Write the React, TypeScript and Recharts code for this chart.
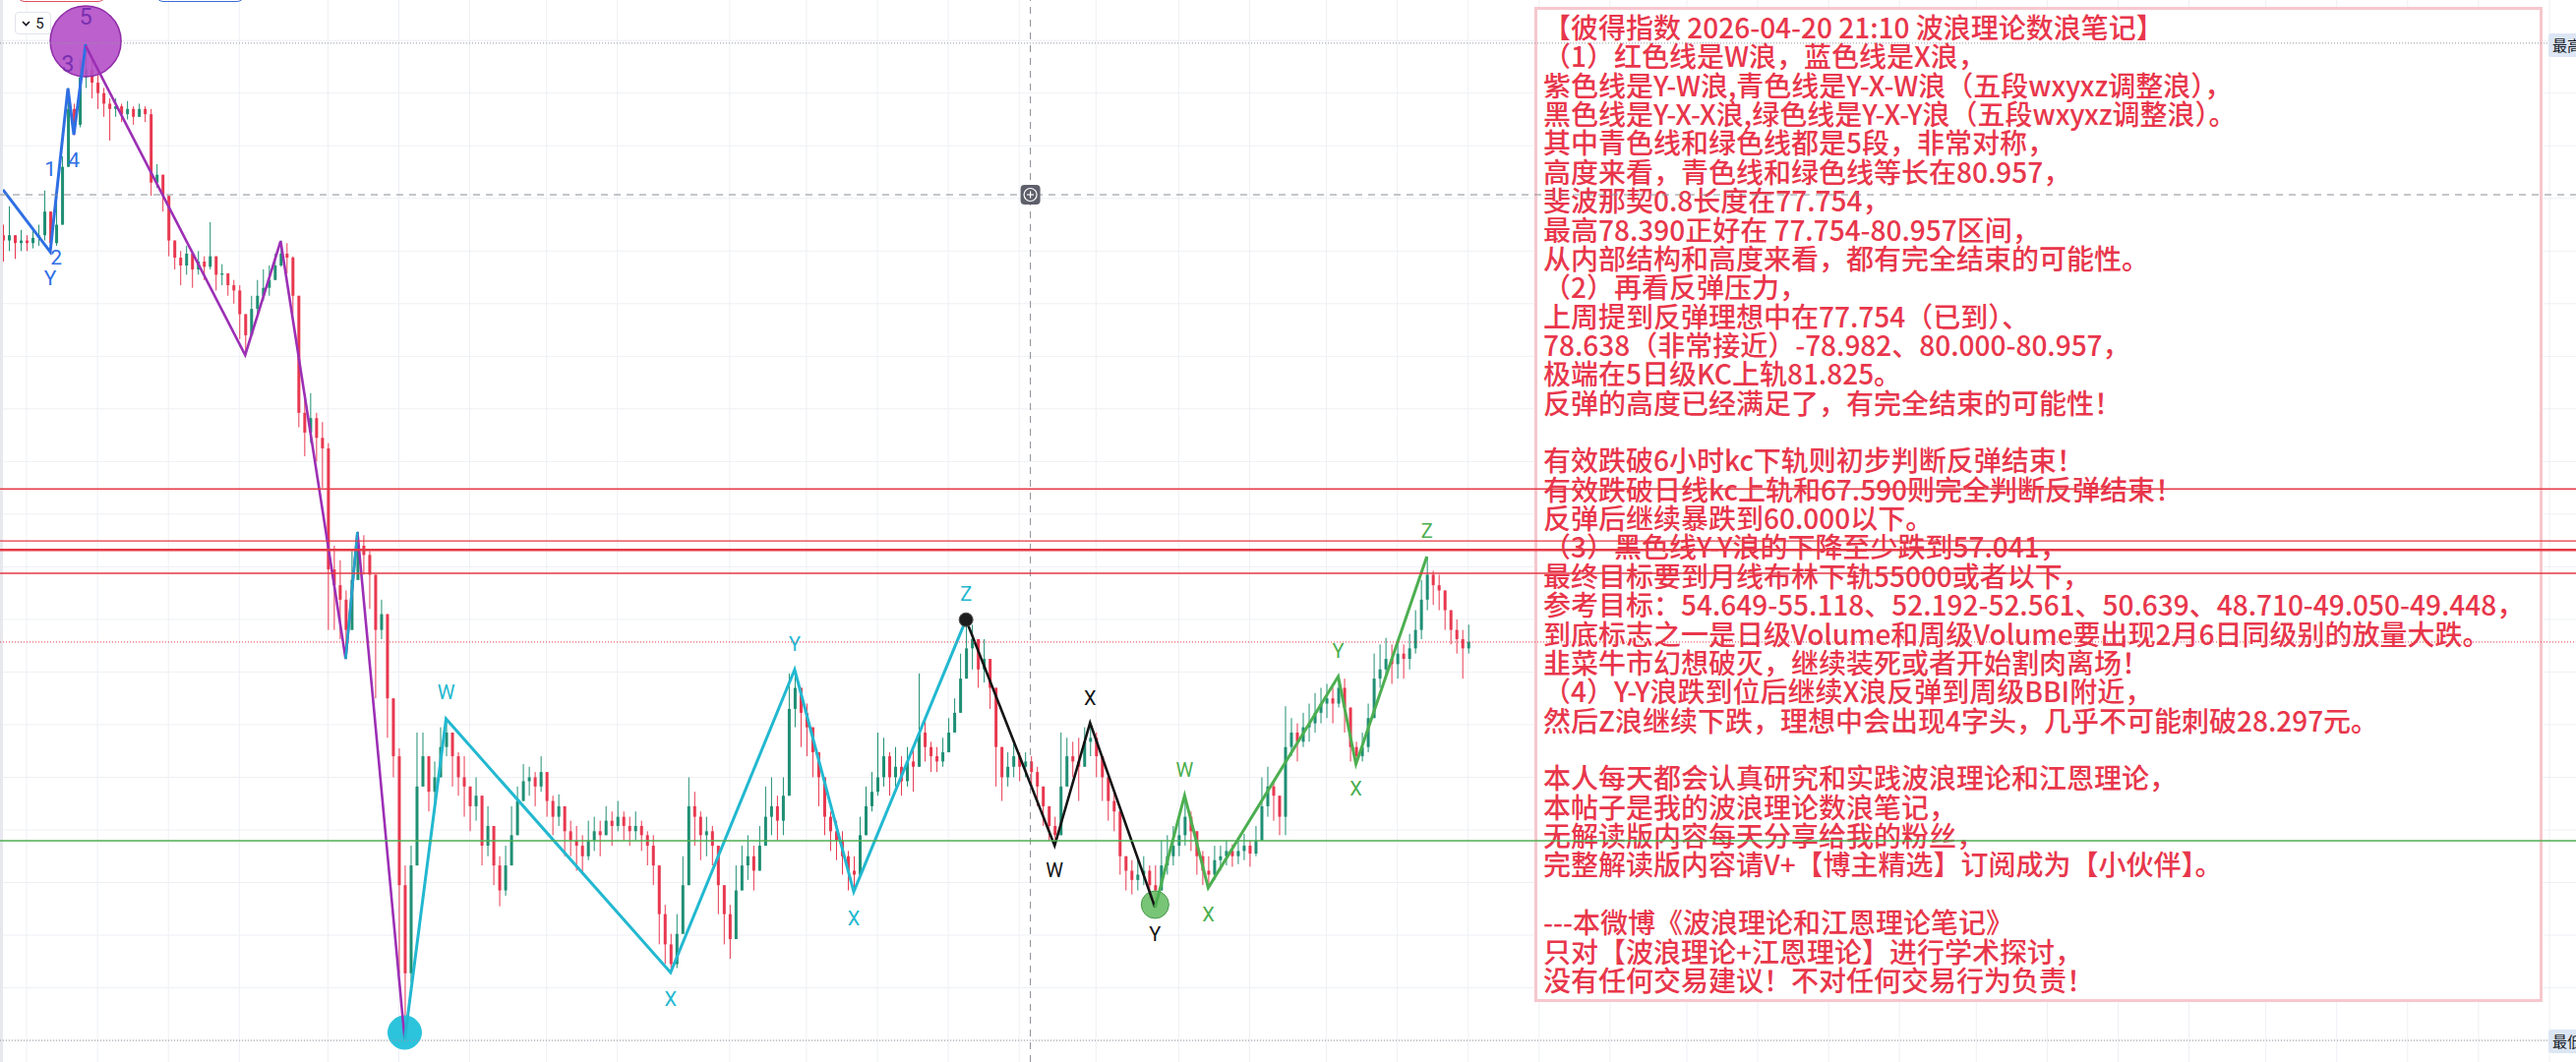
import React from 'react';
import { ComposedChart, Bar, Line, XAxis, YAxis, CartesianGrid, ReferenceLine, ReferenceDot } from 'recharts';

const W = 2619;
const H = 1080;
const SLOTS = 436;
const Y_DOMAIN: [number, number] = [59.18, 99.54];

// ---- price data (one bar per slot) ----
const firstOpen = 90.6;
const closes = [
  90.4, 90.6, 90.3, 90.4, 90.3, 90.5, 90.6, 91.5, 90.3, 91.0,
  93.2, 95.4, 94.8, 96.6, 96.9, 96.4, 96.0, 95.6, 95.4, 95.5,
  95.2, 95.4, 95.1, 95.4, 95.2, 92.6, 92.9, 92.1, 90.4, 89.75,
  89.45, 89.9, 89.3, 89.6, 89.4, 89.8, 89.1, 89.15, 88.7, 88.5,
  87.6, 86.8, 87.8, 88.3, 88.6, 88.9, 89.45, 89.9, 89.75, 88.3,
  83.85, 83.1, 83.65, 82.9, 82.5, 77.9, 77.3, 76.75, 75.6, 77.5,
  78.8, 78.45, 77.7, 75.6, 76.2, 73.0, 70.8, 65.9, 62.55, 66.65,
  69.65, 70.8, 69.45, 70.0, 71.15, 71.7, 70.8, 70.0, 69.65, 68.9,
  69.3, 67.4, 68.15, 66.65, 65.7, 66.65, 67.8, 69.1, 69.85, 70.0,
  69.65, 70.2, 69.1, 68.5, 68.9, 67.95, 67.6, 67.4, 67.0, 67.6,
  67.95, 67.8, 68.35, 68.15, 68.5, 68.15, 67.95, 68.15, 67.8, 67.4,
  66.65, 64.8, 63.65, 62.9, 64.05, 65.9, 68.9, 68.5, 67.8, 67.95,
  67.4, 65.9, 64.8, 63.85, 65.7, 66.65, 67.0, 66.45, 67.4, 68.5,
  68.9, 68.35, 69.3, 72.6, 73.4, 72.45, 71.9, 70.95, 70.0, 68.5,
  67.95, 67.6, 67.0, 66.45, 66.3, 67.8, 68.9, 69.45, 70.0, 70.8,
  70.0, 70.4, 69.85, 70.6, 70.4, 71.7, 71.15, 70.8, 70.6, 70.95,
  71.7, 72.45, 73.75, 74.9, 75.25, 74.1, 74.5, 73.4, 71.15, 70.0,
  70.4, 70.8, 70.4, 70.6, 70.2, 69.65, 68.9, 68.15, 67.8, 69.65,
  70.8, 70.6, 70.4, 71.35, 71.5, 70.8, 70.0, 69.1, 68.7, 67.0,
  66.45, 66.1, 66.3, 66.45, 65.9, 65.7, 66.65, 67.0, 67.4, 67.8,
  68.5, 67.95, 67.0, 66.45, 66.3, 66.85, 67.0, 67.2, 67.0, 67.2,
  67.4, 67.1, 67.6, 68.9, 69.65, 69.3, 68.5, 71.15, 71.7, 71.35,
  71.9, 72.05, 72.45, 72.8, 73.0, 72.8, 73.4, 72.65, 71.15, 70.8,
  71.15, 72.25, 73.75, 74.1, 74.5, 74.3, 74.7, 74.5, 74.9, 75.6,
  76.75, 77.7, 77.3, 77.1, 76.35, 75.6, 75.25, 74.9, 75.14,
];
const highs = [
  91.0, 91.7, 90.6, 90.8, 90.6, 90.9, 91.0, 92.3, 91.5, 91.9,
  93.6, 96.2, 95.6, 97.3, 97.9, 97.3, 96.9, 96.2, 95.8, 95.8,
  95.6, 95.7, 95.5, 95.6, 95.5, 95.4, 93.3, 92.8, 91.5, 90.4,
  90.0, 90.2, 89.75, 90.0, 89.8, 91.1, 89.6, 89.5, 89.15, 88.9,
  88.7, 87.6, 88.3, 88.9, 89.3, 89.45, 89.9, 90.4, 90.3, 89.8,
  88.3, 84.4, 84.6, 83.85, 83.5, 82.7, 78.8, 78.25, 77.1, 78.6,
  79.35, 79.2, 78.6, 77.1, 76.75, 75.6, 72.6, 71.1, 66.65, 67.4,
  71.7, 71.7, 70.0, 70.6, 71.9, 72.2, 71.5, 70.95, 70.8, 69.65,
  70.0, 68.5, 68.9, 67.95, 67.0, 67.4, 68.9, 69.65, 70.5, 70.4,
  70.2, 70.8, 70.0, 69.3, 69.35, 68.7, 68.35, 68.15, 67.8, 68.35,
  68.5, 68.35, 68.9, 68.7, 69.1, 68.7, 68.5, 68.7, 68.35, 67.95,
  67.8, 66.65, 65.15, 64.05, 64.8, 67.0, 70.0, 69.45, 68.7, 68.5,
  68.15, 67.0, 65.9, 65.15, 66.65, 67.4, 67.8, 67.4, 68.15, 69.65,
  70.0, 69.3, 70.0, 73.95, 74.1, 73.4, 72.8, 71.7, 70.8, 69.3,
  68.7, 68.35, 67.95, 67.2, 67.0, 68.5, 69.65, 70.2, 71.7, 71.5,
  70.95, 71.15, 70.8, 71.15, 71.15, 73.95, 72.25, 71.35, 71.15, 71.5,
  72.25, 73.0, 74.7, 75.95, 75.8, 75.25, 75.25, 74.1, 73.4, 71.15,
  70.95, 71.35, 70.95, 70.95, 70.8, 70.4, 69.65, 68.9, 68.5, 71.7,
  71.5, 71.35, 71.5, 71.9, 72.05, 71.7, 70.8, 69.85, 69.45, 68.5,
  67.0, 66.85, 66.85, 67.0, 66.65, 66.65, 67.6, 67.8, 68.15, 68.5,
  69.3, 68.7, 67.95, 67.2, 67.0, 67.4, 67.4, 67.6, 67.45, 67.6,
  67.85, 67.6, 68.15, 70.0, 70.4, 69.85, 69.3, 72.7, 72.25, 72.05,
  72.45, 72.8, 73.2, 73.4, 73.55, 73.4, 73.8, 73.75, 72.05, 71.35,
  71.7, 72.8, 74.7, 75.05, 75.3, 75.05, 75.25, 75.05, 75.45, 76.35,
  77.5, 78.39, 77.85, 77.7, 77.1, 76.35, 76.0, 75.6, 75.8,
];
const lows = [
  89.6, 90.0, 89.7, 90.0, 90.0, 90.1, 90.2, 90.4, 89.97, 90.2,
  91.0, 93.2, 94.4, 94.7, 96.2, 95.8, 95.4, 95.1, 94.2, 95.1,
  94.9, 95.0, 94.8, 95.1, 94.9, 92.1, 92.4, 91.5, 89.8, 89.3,
  88.7, 89.1, 88.6, 89.1, 88.9, 89.3, 88.5, 88.7, 88.3, 88.0,
  86.65, 86.05, 87.0, 87.6, 88.1, 88.3, 88.9, 89.4, 89.15, 87.6,
  83.3, 82.2, 82.7, 82.0, 81.0, 75.6, 75.6, 75.25, 74.5, 76.0,
  77.5, 77.7, 76.4, 73.0, 75.25, 71.5, 70.0, 62.55, 60.0, 62.2,
  67.8, 69.65, 68.7, 69.1, 70.0, 70.8, 69.65, 69.3, 68.5, 67.95,
  68.35, 66.65, 67.0, 65.9, 65.1, 65.5, 66.85, 68.15, 69.1, 69.3,
  68.9, 69.45, 68.5, 67.8, 68.15, 67.0, 67.0, 66.45, 66.3, 66.85,
  67.2, 67.0, 67.8, 67.4, 67.95, 67.6, 67.4, 67.6, 67.2, 66.65,
  65.9, 63.65, 62.9, 62.6, 62.75, 64.4, 66.65, 67.4, 66.85, 67.0,
  66.65, 64.8, 63.65, 63.1, 64.8, 65.7, 66.1, 65.7, 66.45, 67.4,
  67.8, 67.6, 67.8, 70.0, 71.9, 71.15, 70.8, 70.0, 68.9, 67.8,
  67.2, 66.85, 66.3, 65.7, 65.65, 66.65, 67.95, 68.7, 69.3, 69.65,
  69.3, 69.65, 69.3, 69.65, 69.45, 70.8, 70.6, 70.2, 70.2, 70.4,
  71.15, 71.7, 72.8, 73.75, 74.1, 73.4, 73.6, 72.6, 69.65, 69.1,
  69.65, 70.0, 69.85, 70.0, 69.65, 68.9, 68.15, 67.6, 67.4, 68.15,
  69.85, 70.0, 69.1, 70.6, 70.8, 70.0, 69.1, 68.35, 67.95, 66.3,
  65.7, 65.55, 65.7, 65.9, 65.35, 65.05, 65.7, 66.3, 66.65, 67.0,
  67.4, 67.2, 66.3, 65.9, 65.8, 66.1, 66.45, 66.65, 66.6, 66.7,
  66.85, 66.6, 67.0, 67.8, 68.5, 68.35, 67.8, 67.8, 70.8, 70.6,
  71.15, 71.35, 71.7, 72.05, 72.25, 72.05, 72.65, 71.7, 70.6, 70.5,
  70.6, 70.95, 72.65, 73.4, 73.75, 73.55, 73.75, 73.75, 74.1, 74.7,
  75.25, 76.35, 76.55, 76.35, 75.6, 75.05, 74.7, 73.75, 74.7,
];

// ---- grid ----
const gridPrices = [60, 62, 64, 66, 68, 70, 72, 74, 76, 78, 80, 82, 84, 86, 88, 90, 92, 94, 96, 98];
const gridBars = [4, 16, 28, 40, 55, 67, 79, 92, 104, 123, 136, 148, 160, 172, 185, 199, 211, 224, 236, 248, 260, 272, 285, 297, 309, 321, 334, 346, 358, 370, 383, 395, 407, 419, 431];

// ---- horizontal levels ----
const redLevels = [80.957, 78.982, 78.638, 77.754];
const greenLevel = 67.59;
const lastPrice = 75.14;
const highMark = 97.9;
const lowMark = 60.0;
const crossPrice = 92.14;
const crossBar = 174;

// ---- wave pivots ----
const blueWaveBars = [0, 8, 11, 12, 14];
const blueWaveVals = [92.33, 89.97, 96.18, 94.42, 97.86];
const purpleWaveBars = [14, 41, 47, 58, 60, 68];
const purpleWaveVals = [97.8, 86.05, 90.38, 74.5, 79.32, 60.04];
const tealLinkBars = [58, 60];
const tealLinkVals = [74.5, 79.32];
const cyanWaveBars = [68, 75, 113, 134, 144, 163];
const cyanWaveVals = [60.04, 72.22, 62.58, 74.09, 65.65, 75.99];
const blackWaveBars = [163, 178, 184, 195];
const blackWaveVals = [75.99, 67.4, 72.07, 65.05];
const greenWaveBars = [195, 200, 204, 226, 229, 241];
const greenWaveVals = [65.05, 69.31, 65.8, 73.83, 70.5, 78.39];

// ---- wave labels ----
const blueLabelText = ['1', '2', 'Y', '4'];
const blueLabelBars = [8, 9, 8, 12];
const blueLabelVals = [93.11, 89.75, 88.96, 93.45];
const purpleLabelText = ['3', '5'];
const purpleLabelBars = [11, 14];
const purpleLabelVals = [97.11, 98.87];
const cyanLabelText = ['W', 'X', 'Y', 'X', 'Z'];
const cyanLabelBars = [75, 113, 134, 144, 163];
const cyanLabelVals = [73.23, 61.57, 75.06, 64.64, 76.97];
const blackLabelText = ['W', 'X', 'Y'];
const blackLabelBars = [178, 184, 195];
const blackLabelVals = [66.47, 73.01, 64.04];
const greenLabelText = ['W', 'X', 'Y', 'X', 'Z'];
const greenLabelBars = [200, 204, 226, 229, 241];
const greenLabelVals = [70.28, 64.79, 74.8, 69.57, 79.36];

// ---- note text ----
const noteLines = [
  '【彼得指数 2026-04-20 21:10 波浪理论数浪笔记】',
  '（1）红色线是W浪，蓝色线是X浪，',
  '紫色线是Y-W浪,青色线是Y-X-W浪（五段wxyxz调整浪），',
  '黑色线是Y-X-X浪,绿色线是Y-X-Y浪（五段wxyxz调整浪）。',
  '其中青色线和绿色线都是5段，非常对称，',
  '高度来看，青色线和绿色线等长在80.957，',
  '斐波那契0.8长度在77.754，',
  '最高78.390正好在 77.754-80.957区间，',
  '从内部结构和高度来看，都有完全结束的可能性。',
  '（2）再看反弹压力，',
  '上周提到反弹理想中在77.754（已到）、',
  '78.638（非常接近）-78.982、80.000-80.957，',
  '极端在5日级KC上轨81.825。',
  '反弹的高度已经满足了，有完全结束的可能性！',
  '',
  '有效跌破6小时kc下轨则初步判断反弹结束！',
  '有效跌破日线kc上轨和67.590则完全判断反弹结束！',
  '反弹后继续暴跌到60.000以下。',
  '（3）黑色线Y-Y浪的下降至少跌到57.041，',
  '最终目标要到月线布林下轨55000或者以下，',
  '参考目标：54.649-55.118、52.192-52.561、50.639、48.710-49.050-49.448，',
  '到底标志之一是日级Volume和周级Volume要出现2月6日同级别的放量大跌。',
  '韭菜牛市幻想破灭，继续装死或者开始割肉离场！',
  '（4）Y-Y浪跌到位后继续X浪反弹到周级BBI附近，',
  '然后Z浪继续下跌，理想中会出现4字头，几乎不可能刺破28.297元。',
  '',
  '本人每天都会认真研究和实践波浪理论和江恩理论，',
  '本帖子是我的波浪理论数浪笔记，',
  '无解读版内容每天分享给我的粉丝，',
  '完整解读版内容请V+【博主精选】订阅成为【小伙伴】。',
  '',
  '---本微博《波浪理论和江恩理论笔记》',
  '只对【波浪理论+江恩理论】进行学术探讨，',
  '没有任何交易建议！不对任何交易行为负责！',
];

// ---- colours ----
const UP = '#1f8f74';
const DOWN = '#e8384f';
const C_BLUE = '#2f6fe4';
const C_PURPLE = '#9c2fb5';
const C_CYAN = '#22b8d0';
const C_BLACK = '#141414';
const C_GREEN = '#4caf50';
const C_RED = '#e53945';
const C_TEXT = '#e8364b';

// ---- table ----
type Row = { [k: string]: number | undefined };
const rows: Row[] = Array.from({ length: SLOTS }, (_, t) => {
  const row: Row = { t };
  if (t < closes.length) {
    const o = t === 0 ? firstOpen : closes[t - 1];
    const c = closes[t];
    row.o = o;
    row.c = c;
    row.h = Math.max(highs[t], o, c);
    row.l = Math.min(lows[t], o, c);
  }
  return row;
});
const waves: [string, number[], number[]][] = [
  ['blue', blueWaveBars, blueWaveVals],
  ['purple', purpleWaveBars, purpleWaveVals],
  ['teal', tealLinkBars, tealLinkVals],
  ['cyan', cyanWaveBars, cyanWaveVals],
  ['black', blackWaveBars, blackWaveVals],
  ['green', greenWaveBars, greenWaveVals],
];
waves.forEach(([key, bars, vals]) => bars.forEach((b, k) => { rows[b][key] = vals[k]; }));

const labelGroups: [string[], number[], number[], string, number][] = [
  [blueLabelText, blueLabelBars, blueLabelVals, C_BLUE, 21],
  [purpleLabelText, purpleLabelBars, purpleLabelVals, '#7a2fb0', 23],
  [cyanLabelText, cyanLabelBars, cyanLabelVals, C_CYAN, 20],
  [blackLabelText, blackLabelBars, blackLabelVals, C_BLACK, 20],
  [greenLabelText, greenLabelBars, greenLabelVals, C_GREEN, 20],
];
const labels = labelGroups.flatMap(([txt, bars, vals, color, size]) =>
  txt.map((s, k) => ({ s, b: bars[k], v: vals[k], color, size })));

const Candle = (props: any) => {
  const { x, y, width, height, payload } = props;
  if (!payload || payload.c == null || !isFinite(y) || !isFinite(height)) return null;
  const { o, h, l, c } = payload;
  const top = Math.min(y, y + height);
  const full = Math.abs(height);
  const k = h - l > 0 ? full / (h - l) : 0;
  const up = c >= o;
  const color = up ? UP : DOWN;
  const bTop = top + (h - Math.max(o, c)) * k;
  const bH = Math.max(1, Math.abs(o - c) * k);
  const cx = x + width / 2;
  return (
    <g>
      <line x1={cx} x2={cx} y1={top} y2={top + full} stroke={color} strokeWidth={1} />
      <rect x={x} y={bTop} width={width} height={bH} fill={color} />
    </g>
  );
};

const candleRange = (d: any) => (d.c == null ? null : [d.l, d.h]);

export default function App() {
  const margin = { top: 0, right: 0, bottom: 0, left: 0 };
  return (
    <div style={{ position: 'absolute', left: 0, top: 0, width: W, height: H, overflow: 'hidden', background: '#ffffff' }}>
      {/* base chart */}
      <div style={{ position: 'absolute', left: 0, top: 0 }}>
        <ComposedChart width={W} height={H} data={rows} margin={margin}>
          <XAxis dataKey="t" type="category" hide ticks={gridBars} />
          <YAxis type="number" domain={Y_DOMAIN} hide allowDataOverflow ticks={gridPrices} />
          <CartesianGrid stroke="#eef0f4" strokeWidth={1} verticalValues={gridBars} horizontalValues={gridPrices} />
          <Bar dataKey={candleRange} barSize={3} shape={Candle} isAnimationActive={false} />
          <ReferenceDot x={14} y={97.97} r={36} fill="#b44fc8" fillOpacity={0.9} stroke="#8e2aa8" strokeWidth={1.5} zIndex={350} />
          <ReferenceDot x={68} y={60.3} r={17} fill="#2cc3dc" stroke="#2cc3dc" zIndex={350} />
          <ReferenceDot x={195} y={65.16} r={14} fill="#6abf69" fillOpacity={0.9} stroke="#4a9a4d" zIndex={350} />
          <Line dataKey="blue" stroke={C_BLUE} strokeWidth={3} dot={false} connectNulls isAnimationActive={false} />
          <Line dataKey="purple" stroke={C_PURPLE} strokeWidth={2.6} dot={false} connectNulls isAnimationActive={false} />
          <Line dataKey="teal" stroke="#1ea7c9" strokeWidth={2.6} dot={false} connectNulls isAnimationActive={false} />
          <Line dataKey="cyan" stroke={C_CYAN} strokeWidth={3} dot={false} connectNulls isAnimationActive={false} />
          <Line dataKey="black" stroke={C_BLACK} strokeWidth={2.6} dot={false} connectNulls isAnimationActive={false} />
          <Line dataKey="green" stroke={C_GREEN} strokeWidth={3} dot={false} connectNulls isAnimationActive={false} />
          <ReferenceDot x={163} y={75.99} r={7} fill="#1c1c1c" stroke="#555" strokeWidth={1} />
          {labels.map((lb, k) => (
            <ReferenceDot
              key={`lb${k}`}
              x={lb.b}
              y={lb.v}
              r={1}
              shape={(p: any) => (
                <text x={p.cx} y={p.cy} textAnchor="middle" dominantBaseline="central" fill={lb.color}
                  fontSize={lb.size} fontFamily="Roboto, 'Liberation Sans', sans-serif">{lb.s}</text>
              )}
            />
          ))}
        </ComposedChart>
      </div>

      {/* left edge strip */}
      <div style={{ position: 'absolute', left: 0, top: 0, width: 3, height: H, background: '#e6e8ee' }} />

      {/* top toolbar remnants */}
      <div style={{ position: 'absolute', left: 17, top: -22, width: 91, height: 24, border: '1.5px solid #e05060', borderRadius: 8, boxSizing: 'border-box' }} />
      <div style={{ position: 'absolute', left: 158, top: -22, width: 91, height: 24, border: '1.5px solid #3b6ad8', borderRadius: 8, boxSizing: 'border-box' }} />
      <div style={{ position: 'absolute', left: 15, top: 12, width: 37, height: 23, border: '1px solid #e0e3eb', borderRadius: 4, background: '#fff', boxSizing: 'border-box', display: 'flex', alignItems: 'center', justifyContent: 'center', gap: 5, fontFamily: 'Roboto, sans-serif', fontSize: 15, color: '#131722' }}>
        <svg width="9" height="6" viewBox="0 0 9 6"><path d="M1 1 L4.5 4.5 L8 1" stroke="#131722" strokeWidth="1.6" fill="none" /></svg>
        <span>5</span>
      </div>

      {/* note box */}
      <div style={{
        position: 'absolute', left: 1560, top: 7, width: 1025, height: 1012, boxSizing: 'border-box',
        border: '3px solid #f6c7cd', background: '#ffffff', padding: '3px 0 0 6px',
        fontFamily: '"Noto Sans CJK SC", sans-serif', fontSize: 28, fontWeight: 500, lineHeight: '29.36px', color: C_TEXT,
        whiteSpace: 'pre',
      }}>
        {noteLines.map((s, k) => (
          <div key={k} style={{ height: 29.36 }}>{s || '\u00a0'}</div>
        ))}
      </div>

      {/* overlay lines (drawn over the note box) */}
      <div style={{ position: 'absolute', left: 0, top: 0, pointerEvents: 'none' }}>
        <ComposedChart width={W} height={H} data={rows} margin={margin}>
          <XAxis dataKey="t" type="category" hide />
          <YAxis type="number" domain={Y_DOMAIN} hide allowDataOverflow />
          <Line dataKey="c" stroke="none" dot={false} isAnimationActive={false} />
          <ReferenceLine y={highMark} stroke="#9598a1" strokeDasharray="1 2" strokeWidth={1} />
          <ReferenceLine y={lowMark} stroke="#9598a1" strokeDasharray="1 2" strokeWidth={1} />
          <ReferenceLine y={crossPrice} stroke="#8a8d96" strokeDasharray="7 6" strokeWidth={1} />
          <ReferenceLine x={crossBar} stroke="#8a8d96" strokeDasharray="7 6" strokeWidth={1} />
          <ReferenceLine y={lastPrice} stroke={C_RED} strokeDasharray="1 2" strokeWidth={1} />
          {redLevels.map((v, k) => (
            <ReferenceLine key={`r${k}`} y={v} stroke={C_RED} strokeWidth={k === 2 ? 2.4 : 1.4} />
          ))}
          <ReferenceLine y={greenLevel} stroke={C_GREEN} strokeWidth={1.6} />
          <ReferenceDot x={crossBar} y={crossPrice} r={10}
            shape={(p: any) => (
              <g>
                <rect x={p.cx - 10} y={p.cy - 10} width={20} height={20} rx={4} fill="#5d606b" />
                <circle cx={p.cx} cy={p.cy} r={6.5} fill="none" stroke="#ffffff" strokeWidth={1.2} />
                <line x1={p.cx - 3.5} x2={p.cx + 3.5} y1={p.cy} y2={p.cy} stroke="#ffffff" strokeWidth={1.2} />
                <line x1={p.cx} x2={p.cx} y1={p.cy - 3.5} y2={p.cy + 3.5} stroke="#ffffff" strokeWidth={1.2} />
              </g>
            )}
          />
        </ComposedChart>
      </div>

      {/* price-scale badges */}
      <div style={{ position: 'absolute', left: 2591, top: 34, width: 40, height: 24, background: '#dce6f4', borderRadius: 3, fontFamily: '"Noto Sans CJK SC", sans-serif', fontSize: 15, lineHeight: '24px', color: '#131722', paddingLeft: 4, boxSizing: 'border-box' }}>最高</div>
      <div style={{ position: 'absolute', left: 2591, top: 1047, width: 40, height: 24, background: '#dce6f4', borderRadius: 3, fontFamily: '"Noto Sans CJK SC", sans-serif', fontSize: 15, lineHeight: '24px', color: '#131722', paddingLeft: 4, boxSizing: 'border-box' }}>最低</div>
    </div>
  );
}
